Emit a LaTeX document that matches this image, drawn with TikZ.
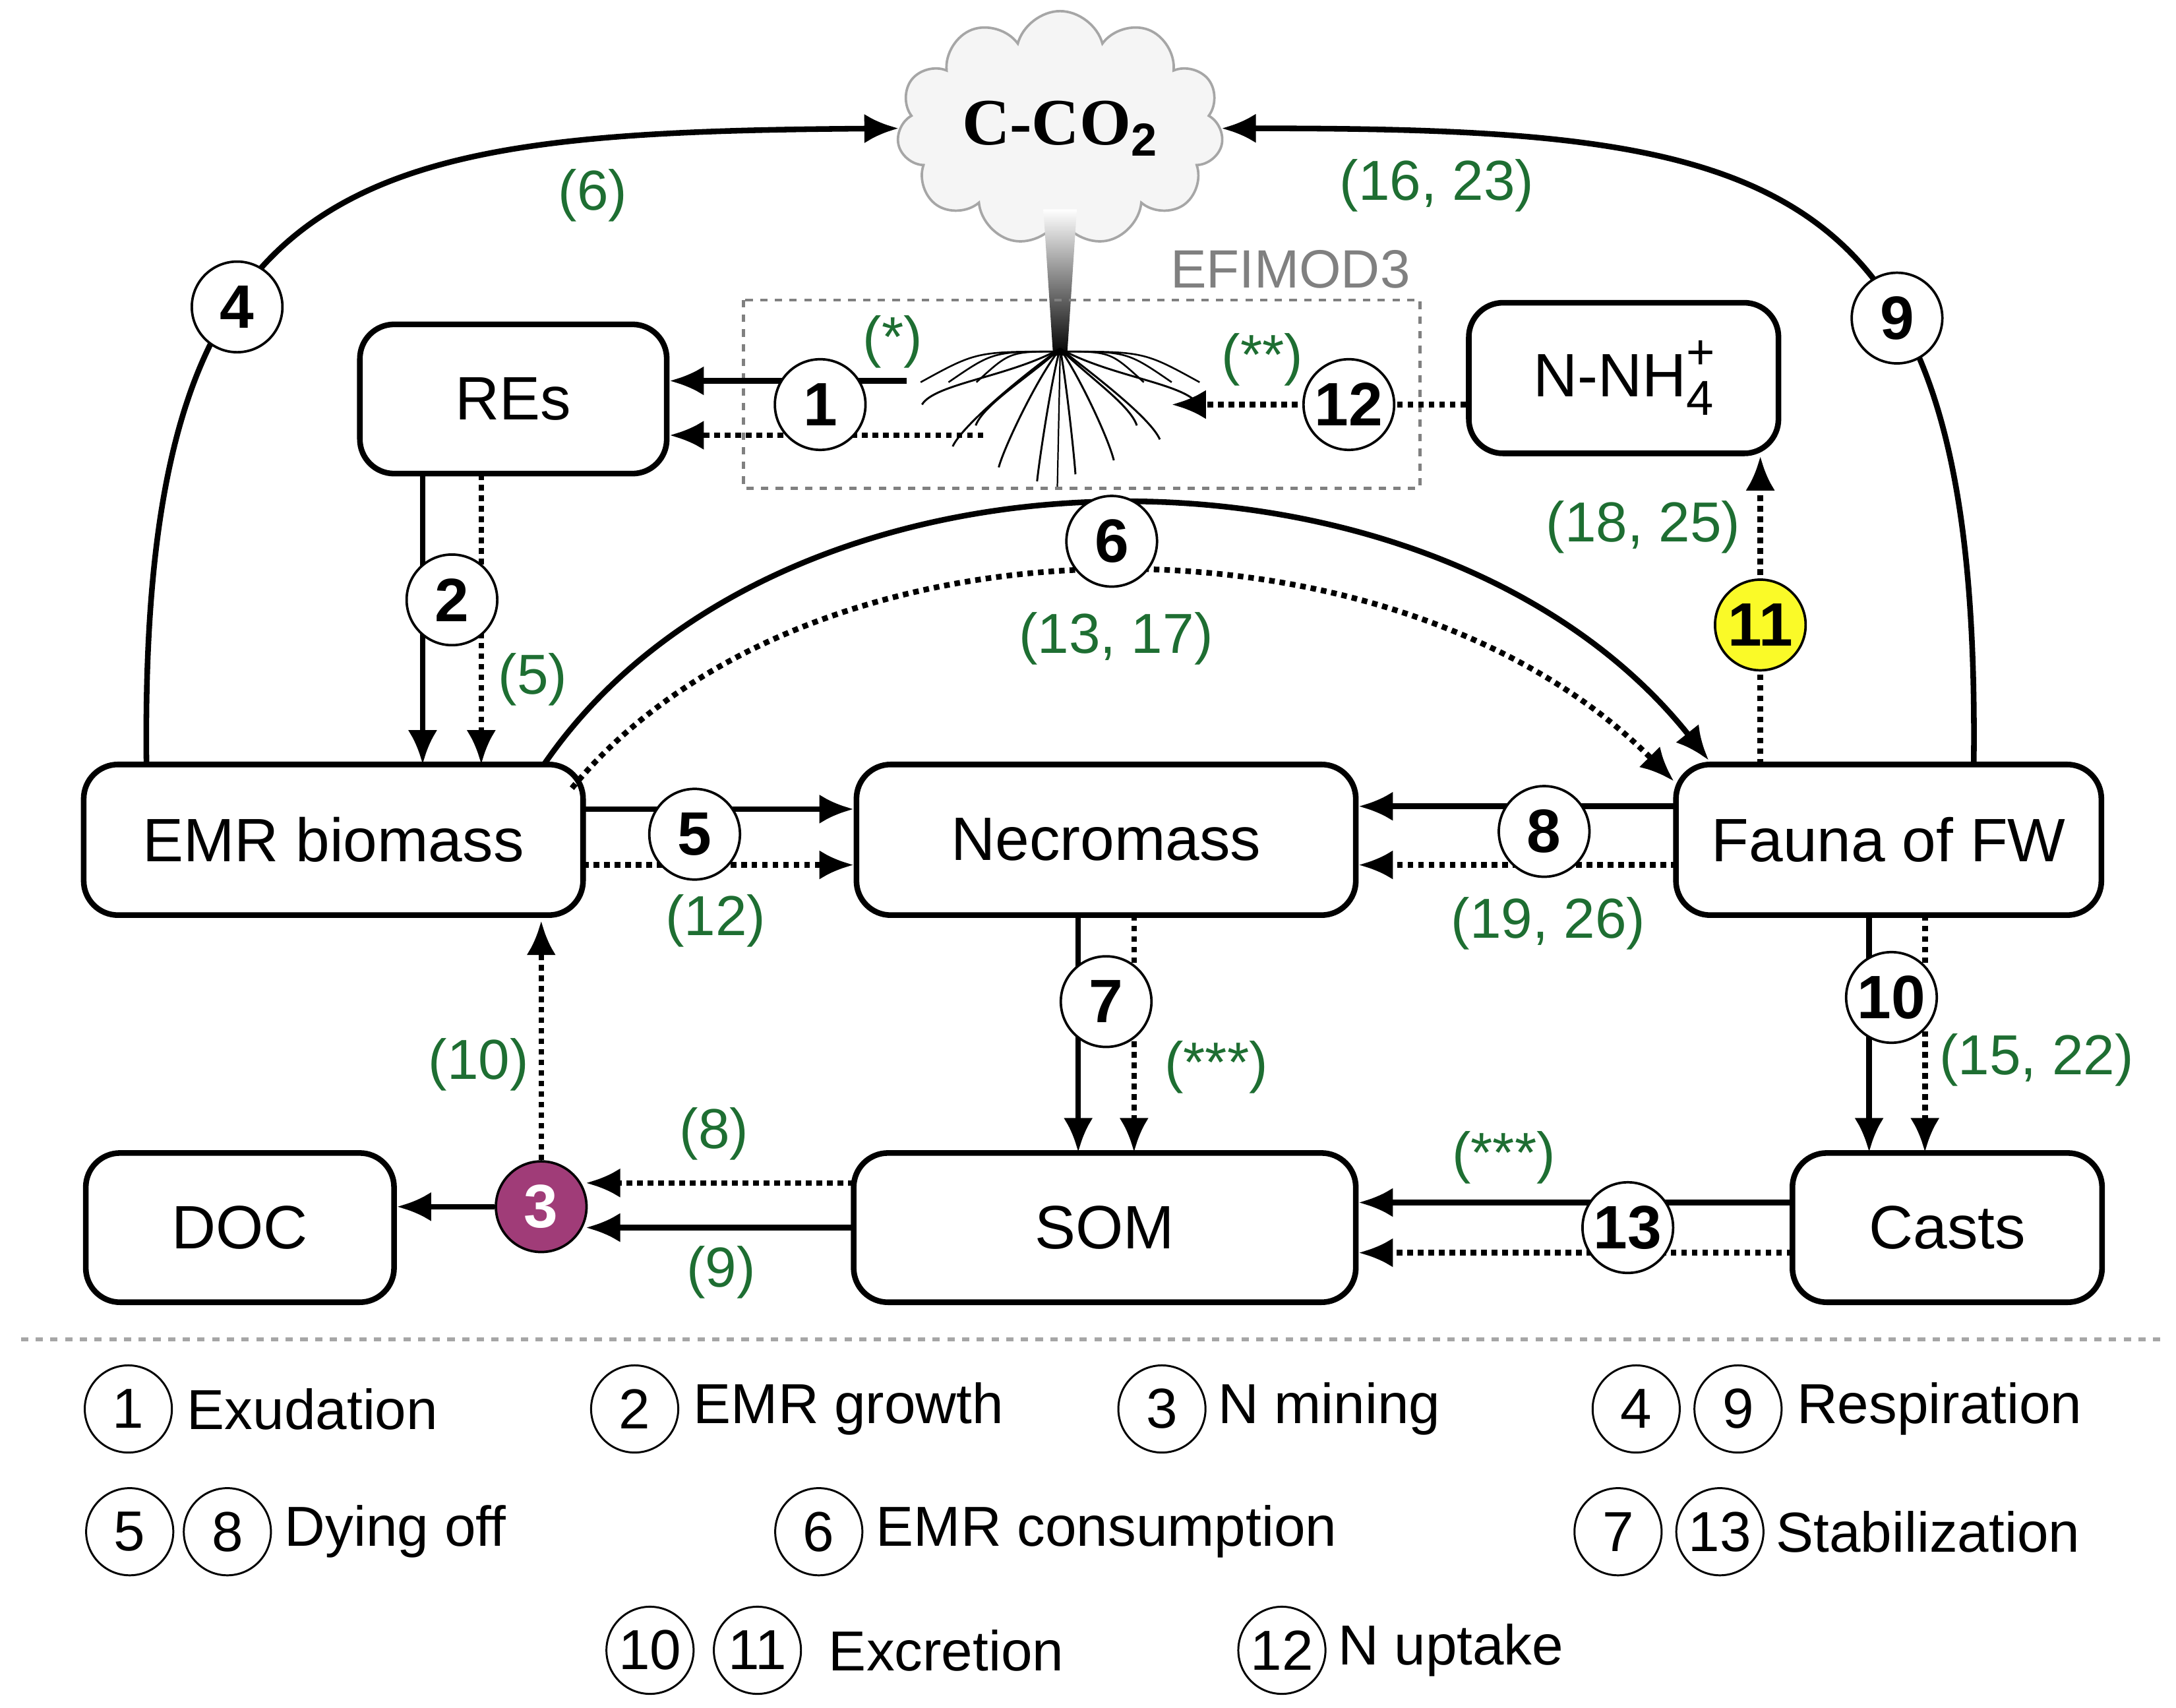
\documentclass[tikz,border=0pt]{standalone}
\usepackage{fontspec}
\setmainfont{Liberation Sans}
\usetikzlibrary{arrows.meta,shapes.symbols}
\definecolor{lg}{RGB}{30,110,50}
\definecolor{pur}{RGB}{160,60,120}
\definecolor{yel}{RGB}{250,250,40}
\begin{document}
\begin{tikzpicture}[x=0.02cm,y=-0.02cm,
 box/.style={draw,line width=2.3pt,rounded corners=14pt,inner sep=0pt,font=\fontsize{25}{30}\selectfont},
 cir/.style={draw,fill=white,circle,minimum size=1.3cm,line width=1pt,inner sep=0pt,font=\fontsize{25}{30}\selectfont\bfseries},
 lc/.style={draw,circle,minimum size=1.25cm,line width=0.8pt,inner sep=0pt,font=\fontsize{23}{28}\selectfont},
 lt/.style={anchor=west,font=\fontsize{23}{28}\selectfont},
 gl/.style={text=lg,font=\fontsize{23}{28}\selectfont},
 sol/.style={line width=2.3pt,-{Latex[length=14pt,width=12pt]}},
 dot/.style={line width=2.3pt,dotted,-{Latex[length=14pt,width=12pt]}}]
\useasboundingbox (0,0) rectangle (1560,1224);
% boxes
\node[box,minimum width=220*0.02cm,minimum height=107*0.02cm] (res) at (368,286) {REs};
\node[box,minimum width=222*0.02cm,minimum height=108*0.02cm] (nh) at (1164,271) {N-NH\rlap{\raisebox{0.45em}{\fontsize{20}{20}\selectfont +}}\raisebox{-0.3em}{\fontsize{20}{20}\selectfont 4}};
\node[box,minimum width=358*0.02cm,minimum height=108*0.02cm] (emr) at (239,602) {EMR biomass};
\node[box,minimum width=358*0.02cm,minimum height=108*0.02cm] (nec) at (793,602) {Necromass};
\node[box,minimum width=305*0.02cm,minimum height=108*0.02cm] (fau) at (1354,602) {Fauna of FW};
\node[box,minimum width=221*0.02cm,minimum height=107*0.02cm] (doc) at (172,880) {DOC};
\node[box,minimum width=360*0.02cm,minimum height=107*0.02cm] (som) at (792,880) {SOM};
\node[box,minimum width=222*0.02cm,minimum height=107*0.02cm] (cas) at (1396,880) {Casts};
% cloud
\node[cloud,cloud puffs=11,aspect=1.7,draw=gray!70,fill=gray!8,line width=1pt,minimum width=230*0.02cm,minimum height=150*0.02cm,font=\fontsize{27}{30}\selectfont\bfseries] (co2) at (760,92) {\fontspec{Liberation Serif}C-CO$_\mathbf{2}$};
% tree
\shade[top color=white,bottom color=black] (748,150) -- (772,150) -- (765,255) -- (755,255) -- cycle;
\foreach \a/\l in {-70/70,-40/85,-15/95,10/90,35/80,65/65,-55/55,50/55,-90/40,90/40}{
 \draw[line width=0.8pt] (760,250) .. controls +(\a*0.4,20) and +(-\a*0.1,-15) .. +(\a*1.1,\l);}
\foreach \a in {-100,-80,-60,60,80,100}{\draw[line width=0.7pt] (760,252) .. controls +(\a*0.6,0) .. +(\a,22);}
\draw[line width=0.6pt] (760,255) -- (758,350);
\node[text=gray,font=\fontsize{22}{26}\selectfont] (efi) at (925,193) {EFIMOD3};
\draw[gray,dashed,line width=1.2pt] (533,215) rectangle (1018,350);
\coordinate (r1) at (650,273); \coordinate (r2) at (705,312); \coordinate (r3) at (840,290);
% arrows
\draw[sol] (105,548) .. controls (100,120) and (250,95) .. (co2.west);
\draw[sol] (1415,548) .. controls (1420,120) and (1280,92) .. (co2.east);
\draw[sol] (r1) -- (res.east|-r1);
\draw[dot] (r2) -- (res.east|-r2);
\draw[dot] (nh.west|-r3) -- (r3);
\draw[sol] (303,340) -- (303,548);
\draw[dot] (345,340) -- (345,548);
\draw[sol] (390,548) .. controls (560,300) and (1030,300) .. (1225,545);
\draw[dot] (410,565) .. controls (580,359) and (1000,359) .. (1200,560);
\draw[dot] (1262,548) -- (1262,327);
\draw[sol] (418,580) -- (612,580);
\draw[dot] (418,620) -- (612,620);
\draw[sol] (1202,578) -- (974,578);
\draw[dot] (1202,620) -- (974,620);
\draw[sol] (773,656) -- (773,826);
\draw[dot] (813,656) -- (813,826);
\draw[sol] (1340,656) -- (1340,826);
\draw[dot] (1380,656) -- (1380,826);
\draw[sol] (1285,862) -- (974,862);
\draw[dot] (1285,898) -- (974,898);
\draw[dot] (612,848) -- (420,848);
\draw[sol] (612,880) -- (420,880);
\node[cir,fill=pur,text=white] (c3) at (388,865) {3};
\draw[sol] (c3) -- (doc.east|-c3);
\draw[dot] (c3) -- (388,660);
% circles
\node[cir] (c4) at (170,220) {4};
\node[cir] (c9) at (1360,228) {9};
\node[cir] (c1) at (588,290) {1};
\node[cir] (c12) at (967,290) {12};
\node[cir] (c2) at (324,430) {2};
\node[cir] (c6) at (797,388) {6};
\node[cir,fill=yel] (c11) at (1262,448) {11};
\node[cir] (c5) at (498,598) {5};
\node[cir] (c8) at (1107,596) {8};
\node[cir] (c7) at (793,718) {7};
\node[cir] (c10) at (1356,715) {10};
\node[cir] (c13) at (1167,880) {13};
% green labels
\node[gl] at (425,140) {(6)};
\node[gl] at (1030,133) {(16, 23)};
\node[gl] at (640,245) {(*)};
\node[gl] at (905,258) {(**)};
\node[gl] at (1178,378) {(18, 25)};
\node[gl] at (382,487) {(5)};
\node[gl] at (800,458) {(13, 17)};
\node[gl] at (513,660) {(12)};
\node[gl] at (1110,662) {(19, 26)};
\node[gl] at (343,763) {(10)};
\node[gl] at (872,765) {(***)};
\node[gl] at (1460,760) {(15, 22)};
\node[gl] at (512,813) {(8)};
\node[gl] at (517,912) {(9)};
\node[gl] at (1078,830) {(***)};
% legend
\draw[gray!70,dashed,line width=1.5pt] (15,960) -- (1550,960);
\node[lc] (l1) at (92,1010) {1}; \node[lt] at (128,1010) {Exudation};
\node[lc] (l2) at (455,1010) {2}; \node[lt] at (491,1010) {EMR growth};
\node[lc] (l3) at (833,1010) {3}; \node[lt] at (867,1010) {N mining};
\node[lc] (l4) at (1173,1010) {4}; \node[lc] (l9) at (1246,1010) {9}; \node[lt] at (1282,1010) {Respiration};
\node[lc] (l5) at (93,1098) {5}; \node[lc] (l8) at (163,1098) {8}; \node[lt] at (198,1098) {Dying off};
\node[lc] (l6) at (587,1098) {6}; \node[lt] at (622,1098) {EMR consumption};
\node[lc] (l7) at (1160,1098) {7}; \node[lc] (l13) at (1233,1098) {13}; \node[lt] at (1267,1098) {Stabilization};
\node[lc] (l10) at (466,1183) {10}; \node[lc] (l11) at (543,1183) {11}; \node[lt] at (588,1183) {Excretion};
\node[lc] (l12) at (919,1183) {12}; \node[lt] at (953,1183) {N uptake};
\end{tikzpicture}
\end{document}
